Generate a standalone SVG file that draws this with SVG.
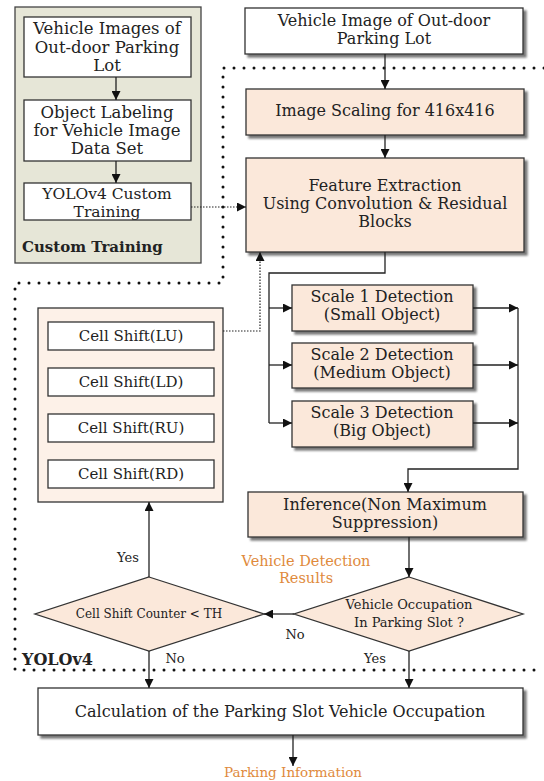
<svg xmlns="http://www.w3.org/2000/svg" width="544" height="781" viewBox="0 0 544 781">
<style>
text{font-family:"DejaVu Serif","Liberation Serif",serif;font-size:16px;fill:#222;text-anchor:middle}
.c{font-size:16.5px}
.c3{font-size:15.5px}
.cs{font-size:15px}
.s{font-size:12px}
.v{font-size:13px}
.l{font-size:13px}
.o{fill:#e08a3c;font-size:14.5px}
.o2{fill:#e08a3c;font-size:13.5px}
.b{font-weight:bold;text-anchor:start;font-size:15px}
.y{font-weight:bold;text-anchor:start;font-size:16px}
.box{fill:#fff;stroke:#333;stroke-width:1.3}
.pe{fill:#fbe8da;stroke:#333;stroke-width:1.3}
.pl{fill:#fdf1e8;stroke:#333;stroke-width:1.3}
.ln{fill:none;stroke:#222;stroke-width:1.3}
.dt{fill:none;stroke:#222;stroke-width:1.2;stroke-dasharray:1.5 1.5}
.reg{fill:none;stroke:#111;stroke-width:3;stroke-dasharray:0 10;stroke-linecap:round}
</style>
<defs>
<filter id="sh" x="-5%" y="-5%" width="115%" height="125%"><feDropShadow dx="3" dy="3" stdDeviation="1" flood-color="#555" flood-opacity="0.8"/></filter>
<marker id="a" viewBox="0 0 10 10" refX="10" refY="5" markerWidth="9" markerHeight="9" markerUnits="userSpaceOnUse" orient="auto"><path d="M0,0L10,5L0,10z" fill="#111"/></marker>
</defs>
<rect width="544" height="781" fill="#fff"/>

<g id="custom-training">
<rect x="15" y="7" width="186" height="256" fill="#e6e6d7" stroke="#444" stroke-width="1.3"/>
<text class="b" x="22" y="252">Custom Training</text>
</g>
<g id="ct1"><rect class="box" x="24" y="17" width="167" height="60"/>
<text class="c" x="107" y="34">Vehicle Images of</text><text class="c" x="107" y="53">Out-door Parking</text><text class="c" x="107" y="71">Lot</text></g>
<g id="ct2"><rect class="box" x="24" y="100" width="167" height="61"/>
<text class="c" x="107" y="118">Object Labeling</text><text class="c" x="107" y="136">for Vehicle Image</text><text class="c" x="107" y="154">Data Set</text></g>
<g id="ct3"><rect class="box" x="24" y="183" width="167" height="37"/>
<text class="c3" x="107" y="199">YOLOv4 Custom</text><text class="c3" x="107" y="216.5">Training</text></g>

<g id="yolo-region">
<path class="reg" d="M544,68H223V283H15V670H544"/>
<text class="y" x="22" y="665">YOLOv4</text>
</g>

<g id="input"><rect class="box" filter="url(#sh)" x="245" y="8" width="278" height="46"/>
<text x="384" y="26">Vehicle Image of Out-door</text><text x="384" y="44">Parking Lot</text></g>
<g id="scaling"><rect class="pe" filter="url(#sh)" x="246" y="89" width="278" height="46"/>
<text x="385" y="116">Image Scaling for 416x416</text></g>
<g id="feature"><rect class="pe" filter="url(#sh)" x="246" y="158" width="278" height="94"/>
<text x="385" y="191">Feature Extraction</text><text x="385" y="209">Using Convolution &amp; Residual</text><text x="385" y="227">Blocks</text></g>

<g id="scale1"><rect class="pe" filter="url(#sh)" x="292" y="285" width="181" height="46"/>
<text x="382" y="302">Scale 1 Detection</text><text x="382" y="320">(Small Object)</text></g>
<g id="scale2"><rect class="pe" filter="url(#sh)" x="292" y="343" width="181" height="45"/>
<text x="382" y="360">Scale 2 Detection</text><text x="382" y="378">(Medium Object)</text></g>
<g id="scale3"><rect class="pe" filter="url(#sh)" x="292" y="401" width="181" height="46"/>
<text x="382" y="418">Scale 3 Detection</text><text x="382" y="436">(Big Object)</text></g>

<g id="inference"><rect class="pe" filter="url(#sh)" x="248" y="492" width="275" height="45"/>
<text x="385" y="510">Inference(Non Maximum</text><text x="385" y="528">Suppression)</text></g>

<g id="cellshift"><rect class="pl" x="38" y="308" width="185" height="194"/></g>
<g id="lu"><rect class="box" x="48" y="322" width="166" height="28"/><text class="cs" x="131" y="341">Cell Shift(LU)</text></g>
<g id="ld"><rect class="box" x="48" y="368" width="166" height="28"/><text class="cs" x="131" y="387">Cell Shift(LD)</text></g>
<g id="ru"><rect class="box" x="48" y="414" width="166" height="28"/><text class="cs" x="131" y="433">Cell Shift(RU)</text></g>
<g id="rd"><rect class="box" x="48" y="460" width="166" height="28"/><text class="cs" x="131" y="479">Cell Shift(RD)</text></g>

<g id="occupation"><path class="pe" d="M409,577L523,614L409,651L294,614z"/>
<text class="v" x="409" y="609">Vehicle Occupation</text><text class="v" x="409" y="627">In Parking Slot ?</text></g>
<g id="counter"><path class="pe" d="M149,577L264,614L149,651L35,614z"/>
<text class="s" x="149" y="618">Cell Shift Counter &lt; TH</text></g>

<g id="calc"><rect class="box" filter="url(#sh)" x="38" y="688" width="485" height="47"/>
<text x="280" y="717">Calculation of the Parking Slot Vehicle Occupation</text></g>

<g id="labels">
<text class="o" x="306" y="566">Vehicle Detection</text><text class="o" x="306" y="583">Results</text>
<text class="o2" x="293" y="777">Parking Information</text>
<text class="l" x="128" y="562">Yes</text>
<text class="l" x="295" y="639">No</text>
<text class="l" x="175" y="663">No</text>
<text class="l" x="375" y="663">Yes</text>
</g>

<g id="connectors">
<path class="ln" marker-end="url(#a)" d="M116,77V100"/>
<path class="ln" marker-end="url(#a)" d="M116,161V183"/>
<path class="dt" marker-end="url(#a)" d="M191,207H246"/>
<path class="ln" marker-end="url(#a)" d="M385,54V89"/>
<path class="ln" marker-end="url(#a)" d="M385,135V158"/>
<path class="ln" d="M385,252V273H269V423"/>
<path class="ln" marker-end="url(#a)" d="M269,308H292"/>
<path class="ln" marker-end="url(#a)" d="M269,365H292"/>
<path class="ln" marker-end="url(#a)" d="M269,423H292"/>
<path class="ln" marker-end="url(#a)" d="M473,308H518"/>
<path class="ln" marker-end="url(#a)" d="M473,365H518"/>
<path class="ln" marker-end="url(#a)" d="M473,423H518"/>
<path class="ln" marker-end="url(#a)" d="M518,308V469H408V492"/>
<path class="ln" marker-end="url(#a)" d="M409,537V577"/>
<path class="ln" marker-end="url(#a)" d="M294,614H264"/>
<path class="ln" marker-end="url(#a)" d="M149,577V502"/>
<path class="dt" marker-end="url(#a)" d="M223,331H260V252"/>
<path class="ln" marker-end="url(#a)" d="M149,651V688"/>
<path class="ln" marker-end="url(#a)" d="M409,651V688"/>
<path class="ln" marker-end="url(#a)" d="M293,735V766"/>
</g>
</svg>
